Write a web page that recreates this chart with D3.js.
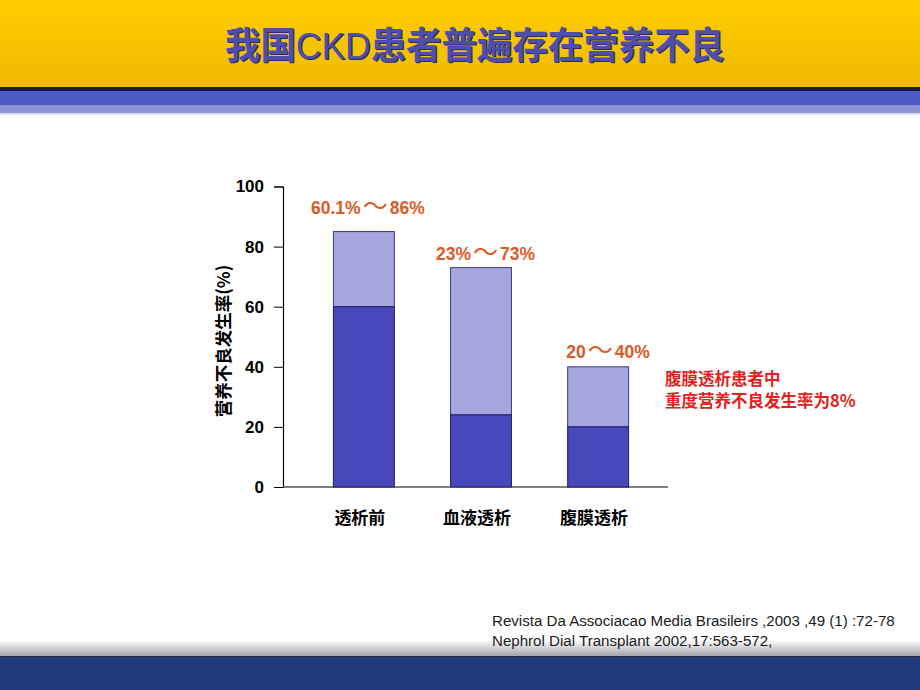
<!DOCTYPE html>
<html>
<head>
<meta charset="utf-8">
<script src="https://cdn.jsdelivr.net/npm/d3@7"></script>
<style>
  body { margin: 0; background: #fff; }
  svg { display: block; font-family: "Liberation Sans", Arial, "Noto Sans CJK SC", sans-serif; }
</style>
</head>
<body>
<div id="chart"></div>
<script>
// data
let categories = ['透析前', '血液透析', '腹膜透析'];
let lowValues = [60, 24, 20];
let highValues = [85, 73, 40];
let rangeLabels = ['60.1%～86%', '23%～73%', '20～40%'];
let yTicks = [0, 20, 40, 60, 80, 100];
let noteLines = ['腹膜透析患者中', '重度营养不良发生率为8%'];
let refs = [
    'Revista Da Associacao Media Brasileirs ,2003 ,49 (1) :72-78',
    'Nephrol Dial Transplant 2002,17:563-572,'
];

let svgWidth = 920;
let svgHeight = 690;
let cjk = '"Noto Sans CJK SC", sans-serif';

let svg = d3.select('#chart').append('svg')
    .attr('width', svgWidth)
    .attr('height', svgHeight);

let defs = svg.append('defs');
let yellow = defs.append('linearGradient').attr('id', 'yellow').attr('x1', 0).attr('x2', 0).attr('y1', 0).attr('y2', 1);
yellow.append('stop').attr('offset', '0%').attr('stop-color', '#ffcd00');
yellow.append('stop').attr('offset', '100%').attr('stop-color', '#eebb00');

let footGrad = defs.append('linearGradient').attr('id', 'foot').attr('x1', 0).attr('x2', 0).attr('y1', 0).attr('y2', 1);
footGrad.append('stop').attr('offset', '0%').attr('stop-color', '#ffffff');
footGrad.append('stop').attr('offset', '100%').attr('stop-color', '#a4a4ac');

// header
svg.append('rect').attr('x', 0).attr('y', 0).attr('width', svgWidth).attr('height', 87).attr('fill', 'url(#yellow)');
svg.append('rect').attr('x', 0).attr('y', 87).attr('width', svgWidth).attr('height', 4).attr('fill', '#1b1b3e');
svg.append('rect').attr('x', 0).attr('y', 91).attr('width', svgWidth).attr('height', 14).attr('fill', '#4b5bc6');
svg.append('rect').attr('x', 0).attr('y', 105).attr('width', svgWidth).attr('height', 8).attr('fill', '#8b95d4');
svg.append('rect').attr('x', 0).attr('y', 113).attr('width', svgWidth).attr('height', 2).attr('fill', '#dcdeea');

function drawTitle(dx, dy, color) {
    let t = svg.append('text')
        .attr('x', 225 + dx).attr('y', 59 + dy)
        .attr('textLength', 500)
        .attr('lengthAdjust', 'spacingAndGlyphs')
        .attr('font-size', 37)
        .attr('fill', color);
    t.append('tspan').attr('font-family', cjk).attr('font-weight', 'bold').text('我国');
    t.append('tspan').attr('font-family', '"Liberation Sans", Arial, sans-serif').attr('font-weight', 'normal').text('CKD');
    t.append('tspan').attr('font-family', cjk).attr('font-weight', 'bold').text('患者普遍存在营养不良');
}
drawTitle(1.2, 1.2, '#2c2c60');
drawTitle(0, 0, '#4f4fab');

// footer
svg.append('rect').attr('x', 0).attr('y', 640).attr('width', svgWidth).attr('height', 16).attr('fill', 'url(#foot)');
svg.append('rect').attr('x', 0).attr('y', 656).attr('width', svgWidth).attr('height', 34).attr('fill', '#1f3a7c');
svg.append('rect').attr('x', 0).attr('y', 656).attr('width', svgWidth).attr('height', 1).attr('fill', '#2a2a40');

svg.selectAll('.ref')
    .data(refs)
    .enter().append('text')
    .attr('class', 'ref')
    .attr('x', 492)
    .attr('y', (d, i) => 626 + i * 19.5)
    .attr('font-size', 15.1)
    .attr('fill', '#1a1a1a')
    .text(d => d);

// chart
let axisLeftX = 283;
let axisRightX = 668;

let xScale = d3.scaleBand()
    .domain(categories)
    .range([310, 652])
    .paddingInner(0.48)
    .paddingOuter(0.2);

let yScale = d3.scaleLinear()
    .domain([0, 100])
    .range([487, 186.5]);

let chartGroup = svg.append('g');

let yAxis = chartGroup.append('g')
    .attr('transform', `translate(${axisLeftX},0)`)
    .call(d3.axisLeft(yScale).tickValues(yTicks).tickSize(9).tickPadding(10));
yAxis.select('.domain').attr('stroke', '#000').attr('stroke-width', 1.2);
yAxis.selectAll('.tick line').attr('stroke', '#000');
yAxis.selectAll('.tick text')
    .attr('font-size', 17).attr('font-weight', 'bold').attr('fill', '#000')
    .attr('font-family', '"Liberation Sans", Arial, sans-serif');

chartGroup.append('line')
    .attr('x1', axisLeftX).attr('x2', axisRightX)
    .attr('y1', yScale(0)).attr('y2', yScale(0))
    .attr('stroke', '#555').attr('stroke-width', 1.5);

// upper (light) part
chartGroup.selectAll('.bar-high')
    .data(categories)
    .enter().append('rect')
    .attr('class', 'bar-high')
    .attr('x', d => xScale(d))
    .attr('width', xScale.bandwidth())
    .attr('y', (d, i) => yScale(highValues[i]))
    .attr('height', (d, i) => yScale(lowValues[i]) - yScale(highValues[i]))
    .attr('fill', '#a6a6df')
    .attr('stroke', '#3a3a8a').attr('stroke-width', 1);

// lower (dark) part
chartGroup.selectAll('.bar-low')
    .data(categories)
    .enter().append('rect')
    .attr('class', 'bar-low')
    .attr('x', d => xScale(d))
    .attr('width', xScale.bandwidth())
    .attr('y', (d, i) => yScale(lowValues[i]))
    .attr('height', (d, i) => yScale(0) - yScale(lowValues[i]))
    .attr('fill', '#4848bd')
    .attr('stroke', '#1e1e5e').attr('stroke-width', 1);

// range labels above bars (wide wave dash like the slide)
let labelShift = [{dx: 4, dy: 18}, {dx: 4.5, dy: 8}, {dx: 10, dy: 9}];
let rl = chartGroup.selectAll('.range-label')
    .data(rangeLabels)
    .enter().append('text')
    .attr('class', 'range-label')
    .attr('x', (d, i) => xScale(categories[i]) + xScale.bandwidth() / 2 + labelShift[i].dx)
    .attr('y', (d, i) => yScale(highValues[i]) - labelShift[i].dy)
    .attr('text-anchor', 'middle')
    .attr('font-size', 17.5).attr('font-weight', 'bold')
    .attr('fill', '#dc5a24');
rl.append('tspan').text(d => d.split('～')[0]);
rl.append('tspan')
    .attr('font-family', cjk)
    .attr('font-weight', 'normal')
    .attr('font-size', 25)
    .attr('dx', 2)
    .attr('dy', 1)
    .text('～');
rl.append('tspan').attr('dx', 2).attr('dy', -1).text(d => d.split('～')[1]);

// category labels
chartGroup.selectAll('.cat-label')
    .data(categories)
    .enter().append('text')
    .attr('class', 'cat-label')
    .attr('x', d => xScale(d) + xScale.bandwidth() / 2 - 4)
    .attr('y', 524)
    .attr('text-anchor', 'middle')
    .attr('font-size', 17).attr('font-weight', 'bold')
    .attr('fill', '#000')
    .attr('font-family', cjk)
    .text(d => d);

// y axis title
chartGroup.append('text')
    .attr('transform', 'translate(230,341) rotate(-90)')
    .attr('text-anchor', 'middle')
    .attr('font-size', 17.5).attr('font-weight', 'bold')
    .attr('fill', '#000')
    .attr('font-family', cjk)
    .text('营养不良发生率(%)');

// red note, two lines
chartGroup.selectAll('.note')
    .data(noteLines)
    .enter().append('text')
    .attr('class', 'note')
    .attr('x', 665)
    .attr('y', (d, i) => 385 + i * 22)
    .attr('font-size', 16.5).attr('font-weight', 'bold')
    .attr('fill', '#e5201c')
    .attr('font-family', cjk)
    .text(d => d);
</script>
</body>
</html>
